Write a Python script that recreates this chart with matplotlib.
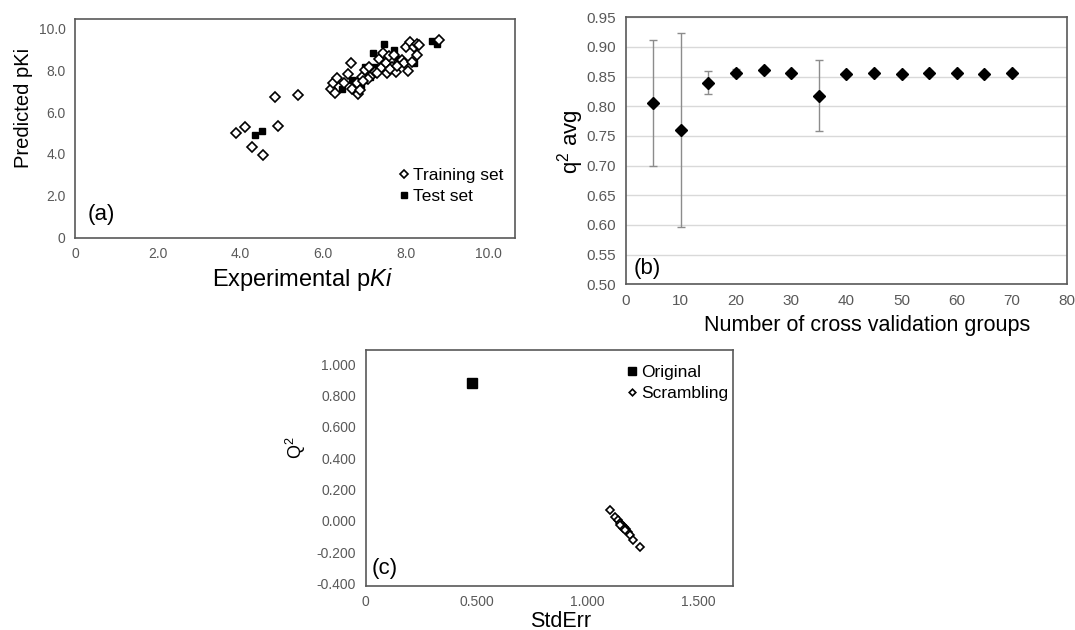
import numpy as np
import matplotlib
matplotlib.use('Agg')
import matplotlib.pyplot as plt
from matplotlib.ticker import FuncFormatter

plt.rcParams['font.family'] = ['Liberation Sans', 'DejaVu Sans']
plt.rcParams['mathtext.fontset'] = 'custom'
plt.rcParams['mathtext.rm'] = 'Liberation Sans'
plt.rcParams['mathtext.it'] = 'Liberation Sans:italic'

# (a) experimental vs predicted pKi
train_exp = [3.90, 4.11, 4.27, 4.55, 4.85, 4.92, 5.40,
             6.19, 6.29, 6.25, 6.33, 6.52, 6.61, 6.69, 6.71, 6.83, 6.85, 6.89,
             6.94, 7.03, 7.11, 7.19, 7.27, 7.35, 7.40, 7.45, 7.52, 7.54, 7.60,
             7.68, 7.72, 7.76, 7.84, 7.92, 7.96, 8.00, 8.06, 8.10, 8.16, 8.20,
             8.28, 8.28, 8.32, 8.82, 7.10, 7.30, 6.98, 7.62, 7.80]
train_pred = [4.98, 5.30, 4.32, 3.95, 6.74, 5.35, 6.83,
              7.09, 6.90, 7.40, 7.63, 7.40, 7.82, 8.36, 7.10, 7.37, 6.86, 7.05,
              7.69, 8.01, 8.17, 7.77, 7.93, 8.52, 8.09, 8.81, 8.33, 7.85, 8.66,
              8.17, 8.74, 7.93, 8.41, 8.49, 8.33, 9.12, 7.98, 9.36, 8.41, 9.12,
              9.28, 8.73, 9.20, 9.47, 7.60, 7.85, 7.50, 8.05, 8.20]
test_exp = [4.35, 4.52, 6.45, 6.71, 6.83, 6.91, 6.99, 7.03, 7.15, 7.21,
            7.23, 7.47, 7.71, 7.82, 8.20, 8.65, 8.77]
test_pred = [4.89, 5.10, 7.09, 7.53, 7.45, 7.29, 7.53, 8.17, 7.69, 8.84,
             8.17, 9.25, 8.97, 8.52, 8.33, 9.41, 9.28]

# (b) q2 avg vs number of cross validation groups
groups = [5, 10, 15, 20, 25, 30, 35, 40, 45, 50, 55, 60, 65, 70]
q2_avg = [0.805, 0.760, 0.840, 0.857, 0.861, 0.857, 0.818,
          0.855, 0.857, 0.855, 0.857, 0.857, 0.855, 0.857]
q2_err = [0.106, 0.163, 0.020, 0.006, 0.003, 0.002, 0.060,
          0.002, 0.002, 0.002, 0.002, 0.002, 0.002, 0.002]

# (c) y-scrambling
orig_se = [0.482]
orig_q2 = [0.878]
scr_se = [1.101, 1.125, 1.137, 1.149, 1.158, 1.167, 1.176, 1.186, 1.195,
          1.209, 1.237, 1.160, 1.172, 1.150]
scr_q2 = [0.068, 0.021, 0.004, -0.013, -0.026, -0.039, -0.056, -0.073,
          -0.090, -0.124, -0.167, -0.045, -0.060, -0.030]

TICK_C = '#595959'
SPINE_C = '#595959'


def style_axes(ax, size=10):
    for s in ax.spines.values():
        s.set_color(SPINE_C)
        s.set_linewidth(1.2)
    ax.tick_params(length=0, labelcolor=TICK_C, labelsize=size, pad=7)


fig = plt.figure(figsize=(10.75, 6.3), dpi=100)

# ---- panel (a)
ax1 = fig.add_axes([0.0700, 0.6227, 0.4090, 0.3471])
style_axes(ax1)
ax1.plot(test_exp, test_pred, 's', color='black', ms=5, label='Test set', zorder=2)
ax1.plot(train_exp, train_pred, 'D', mfc='white', mec='black', mew=1.2, ms=5.5,
         label='Training set', zorder=3)
ax1.set_xlim(0, 10.65)
ax1.set_ylim(0, 10.45)
ax1.set_xticks([0, 2, 4, 6, 8, 10])
ax1.set_yticks([0, 2, 4, 6, 8, 10])
fmt1 = FuncFormatter(lambda v, p: '0' if v == 0 else '%.1f' % v)
ax1.xaxis.set_major_formatter(fmt1)
ax1.yaxis.set_major_formatter(fmt1)
ax1.set_xlabel(r'Experimental p$\mathit{Ki}$', fontsize=17, labelpad=3)
ax1.xaxis.label.set_x(0.517)
ax1.set_ylabel('Predicted pKi', fontsize=14.5, labelpad=4)
ax1.yaxis.label.set_y(0.595)
h, l = ax1.get_legend_handles_labels()
ax1.legend(h[::-1], l[::-1], loc='lower right', bbox_to_anchor=(1.009, 0.081),
           frameon=False, fontsize=12.5, handlelength=0.6, handletextpad=0.2,
           labelspacing=0.35, markerscale=0.8)
ax1.text(0.029, 0.104, '(a)', transform=ax1.transAxes, fontsize=16, va='center')

# ---- panel (b)
ax2 = fig.add_axes([0.5820, 0.5487, 0.4108, 0.4238])
style_axes(ax2, 11)
ax2.errorbar(groups, q2_avg, yerr=q2_err, fmt='D', color='black', ms=6,
             ecolor='#8c8c8c', elinewidth=1.0, capsize=3, capthick=1.0, zorder=3)
ax2.set_xlim(0, 80)
ax2.set_ylim(0.5, 0.95)
ax2.set_xticks(np.arange(0, 81, 10))
ax2.set_yticks(np.arange(0.5, 0.951, 0.05))
ax2.yaxis.set_major_formatter(FuncFormatter(lambda v, p: '%.2f' % v))
ax2.grid(axis='y', color='#d9d9d9', linewidth=1.0, zorder=0)
ax2.set_axisbelow(True)
ax2.set_xlabel('Number of cross validation groups', fontsize=15.5, labelpad=5)
ax2.xaxis.label.set_x(0.546)
ax2.set_ylabel(r'q$^{2}$ avg', fontsize=16, labelpad=0)
ax2.yaxis.label.set_y(0.533)
ax2.text(0.017, 0.061, '(b)', transform=ax2.transAxes, fontsize=16, va='center')

# ---- panel (c)
ax3 = fig.add_axes([0.3402, 0.0703, 0.3420, 0.3741])
style_axes(ax3)
ax3.plot(orig_se, orig_q2, 's', color='black', ms=6.5, label='Original', zorder=3)
ax3.plot(scr_se, scr_q2, 'D', mfc='white', mec='black', mew=1.2, ms=4.2,
         label='Scrambling', zorder=3)
ax3.set_xlim(0, 1.66)
ax3.set_ylim(-0.415, 1.09)
ax3.set_xticks([0, 0.5, 1.0, 1.5])
ax3.set_yticks(np.arange(-0.4, 1.001, 0.2))
fmt3 = FuncFormatter(lambda v, p: '0' if v == 0 else '%.3f' % v)
ax3.xaxis.set_major_formatter(fmt3)
ax3.yaxis.set_major_formatter(FuncFormatter(lambda v, p: '%.3f' % (v + 0.0)))
ax3.set_xlabel('StdErr', fontsize=15.5, labelpad=1)
ax3.xaxis.label.set_x(0.531)
ax3.set_ylabel(r'Q$^{2}$', fontsize=13, labelpad=6)
ax3.yaxis.label.set_y(0.584)
ax3.legend(loc='upper right', bbox_to_anchor=(1.028, 1.005), frameon=False,
           fontsize=12.5, handlelength=0.6, handletextpad=0.2, labelspacing=0.35,
           markerscale=0.8)
ax3.text(0.017, 0.075, '(c)', transform=ax3.transAxes, fontsize=16, va='center')

fig.savefig('out.png', dpi=100)
